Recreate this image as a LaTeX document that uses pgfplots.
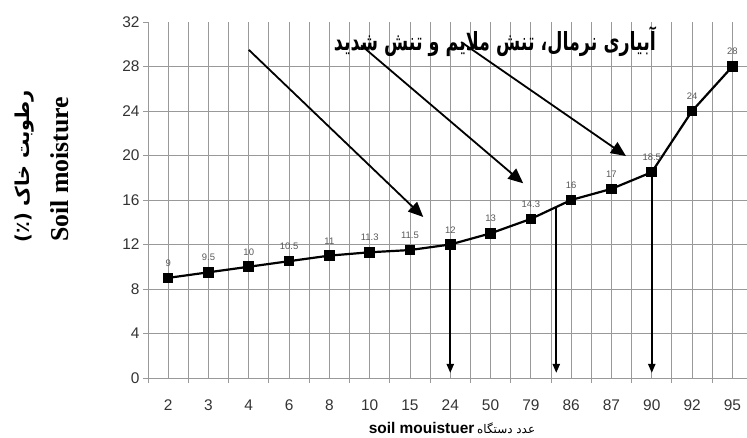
\documentclass[border=0pt]{standalone}
\usepackage{pgfplots}
\pgfplotsset{compat=1.18}
\usetikzlibrary{arrows.meta}
\usepackage{fontspec}
\setmainfont{Liberation Sans}
\newfontfamily\tnr{Liberation Serif}
\newfontfamily\fa[Script=Arabic]{DejaVu Sans}
\TeXXeTstate=1
\pgfkeys{/pgf/number format/assume math mode=true}

\begin{document}
\begin{tikzpicture}[x=1bp,y=1bp]
\useasboundingbox (0,0) rectangle (747,438);
\begin{axis}[
  at={(148bp,60bp)}, anchor=south west,
  scale only axis, width=600.5bp, height=356bp,
  xmin=-0.5, xmax=14.4, ymin=0, ymax=32,
  axis line style={draw=none},
  xtick={0,...,14},
  xticklabels={2,3,4,6,8,10,15,24,50,79,86,87,90,92,95},
  minor xtick={-0.5,0.5,...,13.5},
  ytick={0,4,...,32},
  minor ytick={0,4,...,28},
  xmajorgrids, xminorgrids, yminorgrids, ymajorgrids=false,
  grid style={gray!80, line width=0.9bp},
  tick align=outside, tick pos=left,
  major tick length=5bp, minor tick length=5bp,
  major x tick style={draw=none},
  minor y tick style={draw=none},
  tick style={gray!80, line width=0.9bp},
  ticklabel style={font=\fontsize{15.5}{15.5}\selectfont, text=black!80},
  xticklabel style={yshift=-13bp},
  clip=false,
]
\addplot[black, line width=2.2bp, mark=square*, mark size=4.2bp,
  nodes near coords,
  nodes near coords style={font=\fontsize{9.5}{10}\selectfont, text=black!65, yshift=7bp}]
  coordinates {
  (0,9) (1,9.5) (2,10) (3,10.5) (4,11) (5,11.3) (6,11.5) (7,12)
  (8,13) (9,14.3) (10,16) (11,17) (12,18.5) (13,24) (14,28)
};
% diagonal pointers
\addplot[black, line width=1.8bp, -{Triangle[length=15bp,width=13bp]}] coordinates {(2,29.5) (6.33,14.47)};
\addplot[black, line width=1.8bp, -{Triangle[length=15bp,width=13bp]}] coordinates {(4.79,29.9) (8.81,17.5)};
\addplot[black, line width=1.8bp, -{Triangle[length=15bp,width=13bp]}] coordinates {(7.27,30.2) (11.36,19.95)};
% vertical drops
\addplot[black, line width=2bp, -{Triangle[length=9bp,width=7bp]}] coordinates {(7,12) (7,0.45)};
\addplot[black, line width=2bp, -{Triangle[length=9bp,width=7bp]}] coordinates {(9.63,15.37) (9.63,0.45)};
\addplot[black, line width=2bp, -{Triangle[length=9bp,width=7bp]}] coordinates {(12,18.5) (12,0.45)};
\end{axis}

\node at (495,396) {\resizebox*{322bp}{30bp}{\fa\bfseries\beginR آبیاری نرمال، تنش ملایم و تنش شدید\endR}};
\node[rotate=90] at (25,272) {\resizebox{152bp}{!}{\fa\bfseries\beginR رطوبت خاک (٪)\endR}};
\node[rotate=90] at (60,268.5) {\resizebox{145bp}{!}{\tnr\bfseries Soil moisture}};
\node[anchor=base] at (452,4) {{\fontsize{15.5}{16}\selectfont\bfseries soil mouistuer}\ {\fa\fontsize{12}{12}\selectfont\beginR عدد دستگاه\endR}};
\end{tikzpicture}
\end{document}
